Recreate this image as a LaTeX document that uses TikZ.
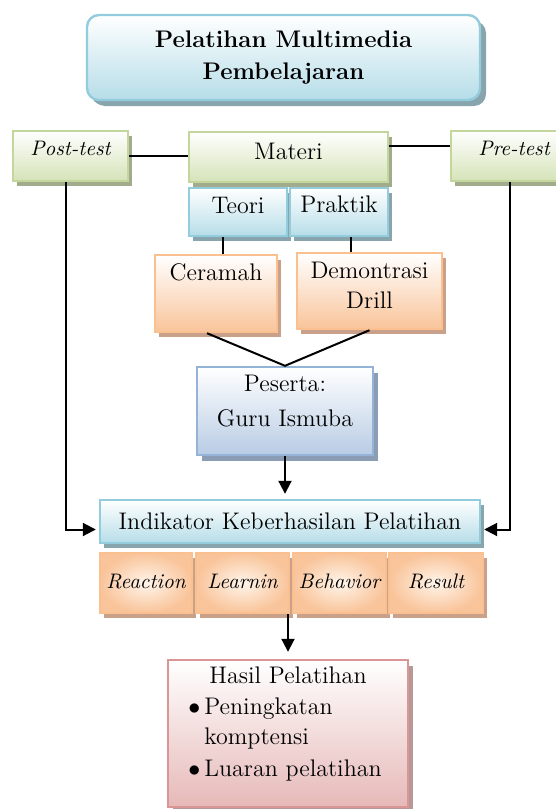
\documentclass[tikz,border=0pt]{standalone}
\usepackage{tikz}
\usetikzlibrary{arrows.meta,shadows}
\definecolor{grnline}{HTML}{C3D69B}
\definecolor{grnfill}{HTML}{D5E3B8}
\definecolor{grnshade}{HTML}{A3AB8D}
\definecolor{bluline}{HTML}{93CDDD}
\definecolor{blufill}{HTML}{B6DDE8}
\definecolor{blushade}{HTML}{88A5AE}
\definecolor{orgline}{HTML}{FAC090}
\definecolor{orgfill}{HTML}{F9C49A}
\definecolor{orgshade}{HTML}{C9A08A}
\definecolor{pesline}{HTML}{95B3D7}
\definecolor{pesfill}{HTML}{B8CCE4}
\definecolor{pesshade}{HTML}{8B9DB4}
\definecolor{hslline}{HTML}{D99694}
\definecolor{hslfill}{HTML}{E6B9B8}
\definecolor{hslshade}{HTML}{B89896}
\tikzset{every shadow/.style={opacity=1}}
\tikzset{
  box/.style={line width=1.2pt,inner sep=1pt,align=center,
    font=\fontsize{12}{15}\selectfont},
  slant/.style={font=\fontsize{10.5}{13}\selectfont\itshape},
  lift/.style={text height=9pt,text depth=#1},
  grnbox/.style={box,draw=grnline,top color=white,bottom color=grnfill,
    drop shadow={shadow xshift=2pt,shadow yshift=-2.5pt,fill=grnshade}},
  blubox/.style={box,draw=bluline,top color=white,bottom color=blufill,
    drop shadow={shadow xshift=2pt,shadow yshift=-2.5pt,fill=blushade}},
  orgbox/.style={box,draw=orgline,top color=white,bottom color=orgfill,
    drop shadow={shadow xshift=2pt,shadow yshift=-2.5pt,fill=orgshade}},
  indbox/.style={box,draw=orgline,inner color=orange!8!white,outer color=orgfill,
    drop shadow={shadow xshift=2pt,shadow yshift=-2.5pt,fill=orgshade},
    slant,lift=4pt},
  pesbox/.style={box,draw=pesline,top color=white,bottom color=pesfill,
    drop shadow={shadow xshift=2.5pt,shadow yshift=-3pt,fill=pesshade}},
  hslbox/.style={box,draw=hslline,top color=white,bottom color=hslfill,
    drop shadow={shadow xshift=2.5pt,shadow yshift=-3pt,fill=hslshade}},
  conn/.style={line width=1pt,black},
}
\begin{document}
\begin{tikzpicture}[x=0.5pt,y=-0.5pt,>={Triangle[width=6.5pt,length=6.5pt]}]
\useasboundingbox (0,0) rectangle (556,809);
% \draw[help lines,step=50] (0,0) grid (556,809);
\node (judul) [blubox,rounded corners=6pt,minimum width=196.5pt,minimum height=42.5pt,
  drop shadow={shadow xshift=3pt,shadow yshift=-3pt,fill=blushade},
  font=\fontsize{12}{16}\selectfont\bfseries] at (283.5,57.5) {Pelatihan Multimedia\\Pembelajaran};
%
\node (post) [grnbox,slant,lift=10pt,minimum width=57.5pt,minimum height=25pt] at (70.5,156) {Post-test};
\node (materi) [grnbox,lift=7pt,minimum width=99.5pt,minimum height=25pt] at (288.5,157) {Materi};
\node (pre) [grnbox,slant,lift=9.5pt,minimum width=63pt,minimum height=25pt] at (514,156) {Pre-test};
\node (teori) [blubox,lift=7.5pt,minimum width=49pt,minimum height=24pt] at (238,212) {Teori};
\node (praktik) [blubox,lift=8.5pt,minimum width=49pt,minimum height=24pt] at (339,212) {Praktik};
\node (cer) [orgbox,lift=22pt,minimum width=61pt,minimum height=38.5pt] at (216,293.5) {Ceramah};
\node (demo) [orgbox,minimum width=72.5pt,minimum height=38pt] at (369.5,291) {Demontrasi\\Drill\\[-9pt]};
\node (pes) [pesbox,minimum width=88pt,minimum height=44pt] at (285,411) {Peserta:\\[2.5pt]Guru Ismuba\\[-5pt]};
%
\node (ind) [blubox,lift=1pt,minimum width=190pt,minimum height=21.5pt] at (290,521.5) {Indikator Keberhasilan Pelatihan};
\node (rea) [indbox,minimum width=46pt,minimum height=30pt] at (146,583) {Reaction};
\node (lea) [indbox,minimum width=46.5pt,minimum height=30pt] at (242.5,583) {Learnin};
\node (beh) [indbox,minimum width=46.5pt,minimum height=30pt] at (339.5,583) {Behavior};
\node (res) [indbox,minimum width=47pt,minimum height=30pt] at (436,583) {Result};
%
\node (hasil) [hslbox,minimum width=120pt,minimum height=71.5pt] at (288,733.5) {%
  \begin{tabular}{@{}l@{\hspace{2pt}}l@{\hspace{3pt}}}
  \multicolumn{2}{c}{Hasil Pelatihan}\\[0.5pt]
  $\bullet$ & Peningkatan\\
   & komptensi\\[1pt]
  $\bullet$ & Luaran pelatihan\\[10pt]
  \end{tabular}};
%
\draw[conn] (post.east) -- (post.east -| materi.west);
\draw[conn] ([yshift=5pt]pre.west) -- ([yshift=5pt]pre.west -| materi.east);
\draw[conn] ([xshift=-7.5pt]teori.south) -- ([xshift=3.5pt]cer.north);
\draw[conn] ([xshift=6pt]praktik.south) -- ([xshift=-9.25pt]demo.north);
\draw[conn] ([xshift=-4.5pt]cer.south) -- (pes.north) -- (demo.south);
\draw[conn,->,shorten >=2.5pt] (pes.south) -- (pes.south |- ind.north);
\draw[conn,->,shorten >=1.5pt] ([xshift=-2.5pt]post.south) |- ([yshift=-4pt]ind.west);
\draw[conn,->,shorten >=1.5pt] ([xshift=-2pt]pre.south) |- ([yshift=-4pt]ind.east);
\draw[conn,->,shorten >=3.5pt] (hasil.north |- lea.south) -- (hasil.north);
\end{tikzpicture}
\end{document}
